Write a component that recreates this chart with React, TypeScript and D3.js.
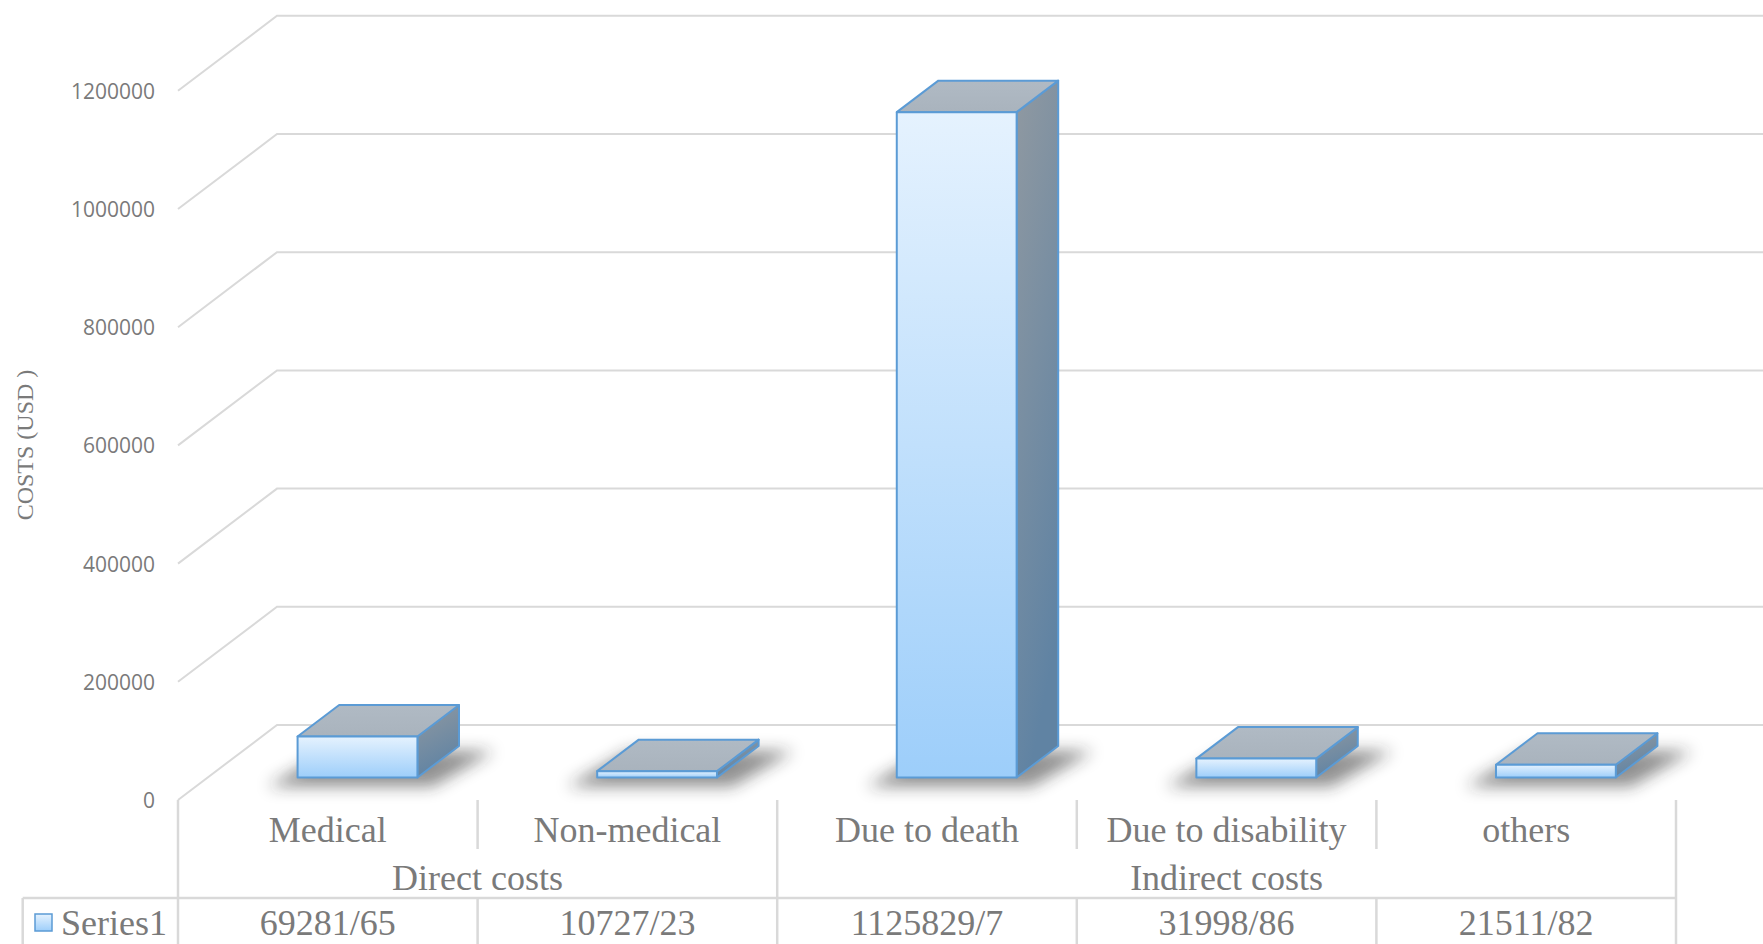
import React from 'react';
import * as d3 from 'd3';

// chart data
const categories = ['Medical', 'Non-medical', 'Due to death', 'Due to disability', 'others'];
const groups = ['Direct costs', 'Indirect costs'];
const groupSpans = [2, 3]; // number of categories in each group
const seriesName = 'Series1';
const values = [69281.65, 10727.23, 1125829.7, 31998.86, 21511.82];
const valueLabels = ['69281/65', '10727/23', '1125829/7', '31998/86', '21511/82'];
const yTicks = [0, 200000, 400000, 600000, 800000, 1000000, 1200000];

const W = 1763;
const H = 944;
const DX = 99; // depth of the floor in x
const DY = 75; // depth of the floor in y
const Z0 = 0.3; // bar front depth
const Z1 = 0.72; // bar back depth
const GRID = '#D9D9D9';
const TXT = '#7A7A7A';
const EDGE = '#5B9BD5';

const App = () => {
  const x = d3.scaleBand<string>().domain(categories).range([178, 1676]).paddingInner(0);
  const y = d3.scaleLinear().domain([0, 1200000]).range([800, 90.8]);
  const bw = x.bandwidth();
  const ddx = (Z1 - Z0) * DX;
  const ddy = (Z1 - Z0) * DY;
  const y0 = y(0);

  // group boundaries
  const groupEdges: number[] = [];
  let idx = 0;
  groupSpans.forEach((n) => {
    const start = x(categories[idx])!;
    const end = x(categories[idx + n - 1])! + bw;
    groupEdges.push(start, end);
    idx += n;
  });

  const bars = categories.map((c, i) => {
    const xf0 = x(c)! + bw * 0.3 + Z0 * DX;
    const xf1 = xf0 + bw * 0.4;
    const yb = y0 - Z0 * DY;
    const yt = y(values[i]) - Z0 * DY;
    return { c, xf0, xf1, yb, yt };
  });

  const pts = (p: number[][]) => p.map((q) => q.join(',')).join(' ');

  return (
    <svg
      width={W}
      height={H}
      style={{ position: 'absolute', left: 0, top: 0, background: '#fff' }}
      fontFamily="'Liberation Serif', serif"
    >
      <defs>
        <linearGradient id="front" x1="0" y1="0" x2="0" y2="1">
          <stop offset="0" stopColor="#E5F2FE" />
          <stop offset="1" stopColor="#9DCEFA" />
        </linearGradient>
        <linearGradient id="side" x1="0" y1="0" x2="0.3" y2="1">
          <stop offset="0" stopColor="#9099A1" />
          <stop offset="1" stopColor="#6083A3" />
        </linearGradient>
        <linearGradient id="top" x1="0" y1="0" x2="0" y2="1">
          <stop offset="0" stopColor="#B0BAC4" />
          <stop offset="1" stopColor="#A9B3BD" />
        </linearGradient>
        <filter id="blur" x="-50%" y="-100%" width="200%" height="300%">
          <feGaussianBlur stdDeviation="8" />
        </filter>
      </defs>

      {/* walls: side wall lines and back wall gridlines */}
      {yTicks.map((t) => (
        <g key={t}>
          <polyline
            points={pts([
              [178, y(t)],
              [178 + DX, y(t) - DY],
              [W, y(t) - DY],
            ])}
            fill="none"
            stroke={GRID}
            strokeWidth={2}
          />
          <text
            x={155}
            y={y(t)}
            textAnchor="end"
            dominantBaseline="central"
            fontFamily="'Open Sans', sans-serif"
            fontSize={21}
            fill={TXT}
          >
            {t}
          </text>
        </g>
      ))}

      <text
        transform="translate(25,445) rotate(-90)"
        textAnchor="middle"
        dominantBaseline="central"
        fontSize={24}
        fill={TXT}
      >
        COSTS (USD )
      </text>

      {/* shadows */}
      {bars.map((b) => (
        <polygon
          key={'s' + b.c}
          points={pts([
            [b.xf0 - 30, b.yb + 9],
            [b.xf1 + 15, b.yb + 9],
            [b.xf1 + ddx + 35, b.yb - ddy + 5],
            [b.xf0 + ddx - 10, b.yb - ddy + 5],
          ])}
          fill="#222"
          opacity={0.5}
          filter="url(#blur)"
        />
      ))}

      {/* bars */}
      {bars.map((b) => (
        <g key={b.c} stroke={EDGE} strokeWidth={2} strokeLinejoin="round">
          <polygon
            points={pts([
              [b.xf1, b.yt],
              [b.xf1 + ddx, b.yt - ddy],
              [b.xf1 + ddx, b.yb - ddy],
              [b.xf1, b.yb],
            ])}
            fill="url(#side)"
          />
          <polygon
            points={pts([
              [b.xf0, b.yt],
              [b.xf0 + ddx, b.yt - ddy],
              [b.xf1 + ddx, b.yt - ddy],
              [b.xf1, b.yt],
            ])}
            fill="url(#top)"
          />
          <rect x={b.xf0} y={b.yt} width={b.xf1 - b.xf0} height={b.yb - b.yt} fill="url(#front)" />
        </g>
      ))}

      {/* data table */}
      <g stroke={GRID} strokeWidth={2.5}>
        <line x1={22.7} y1={898} x2={1676} y2={898} />
        <line x1={22.7} y1={898} x2={22.7} y2={H} />
        {categories.map((c) => {
          const xl = x(c)!;
          const isGroupEdge = groupEdges.some((e) => Math.abs(e - xl) < 1);
          return isGroupEdge ? (
            <line key={c} x1={xl} y1={800} x2={xl} y2={H} />
          ) : (
            <g key={c}>
              <line x1={xl} y1={800} x2={xl} y2={849} />
              <line x1={xl} y1={898} x2={xl} y2={H} />
            </g>
          );
        })}
        <line x1={1676} y1={800} x2={1676} y2={H} />
      </g>

      <g fontSize={36} fill={TXT} textAnchor="middle" dominantBaseline="central">
        {categories.map((c) => (
          <text key={c} x={x(c)! + bw / 2} y={830}>
            {c}
          </text>
        ))}
        {groups.map((g, i) => (
          <text key={g} x={(groupEdges[i * 2] + groupEdges[i * 2 + 1]) / 2} y={878}>
            {g}
          </text>
        ))}
        {categories.map((c, i) => (
          <text key={'v' + c} x={x(c)! + bw / 2} y={923}>
            {valueLabels[i]}
          </text>
        ))}
      </g>

      {/* legend key */}
      <rect x={35} y={914} width={17} height={17} fill="url(#front)" stroke={EDGE} strokeWidth={1.5} />
      <text x={61} y={923} fontSize={36} fill={TXT} dominantBaseline="central">
        {seriesName}
      </text>
    </svg>
  );
};

export default App;
